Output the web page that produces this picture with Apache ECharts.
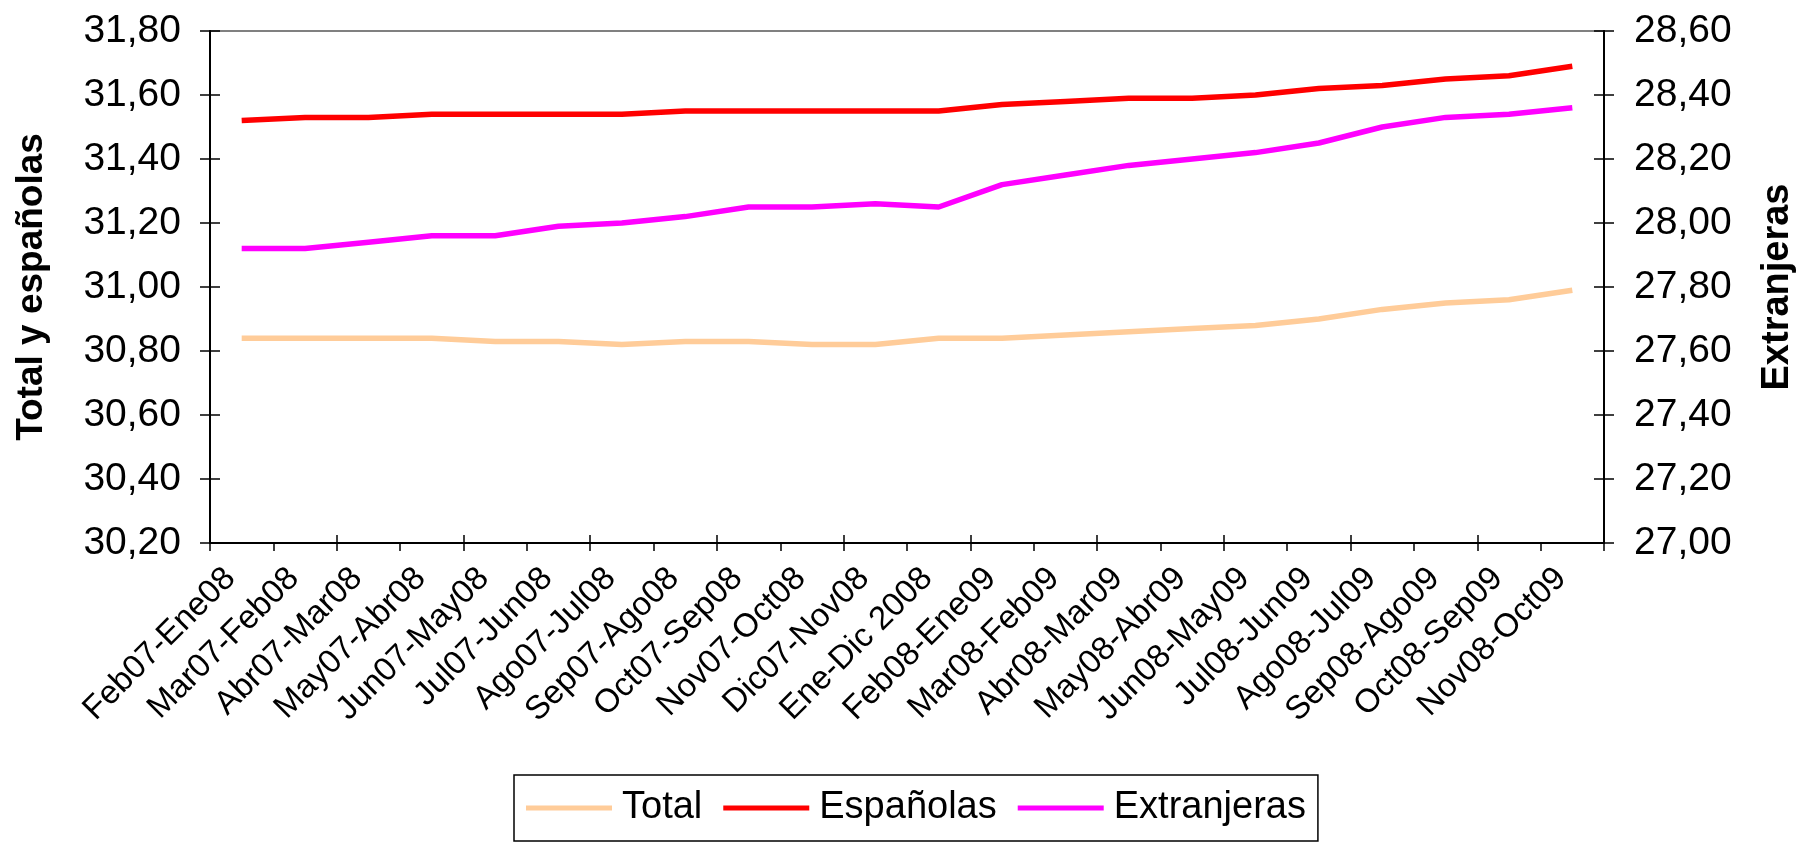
<!DOCTYPE html>
<html>
<head>
<meta charset="utf-8">
<script src="https://cdn.jsdelivr.net/npm/echarts@6/dist/echarts.min.js"></script>
<style>
html,body{margin:0;padding:0;background:#fff;}
#chart{width:1805px;height:845px;}
</style>
</head>
<body>
<div id="chart"></div>
<script>
const categories = ['Feb07-Ene08','Mar07-Feb08','Abr07-Mar08','May07-Abr08','Jun07-May08','Jul07-Jun08','Ago07-Jul08','Sep07-Ago08','Oct07-Sep08','Nov07-Oct08','Dic07-Nov08','Ene-Dic 2008','Feb08-Ene09','Mar08-Feb09','Abr08-Mar09','May08-Abr09','Jun08-May09','Jul08-Jun09','Ago08-Jul09','Sep08-Ago09','Oct08-Sep09','Nov08-Oct09'];
const total = [30.84,30.84,30.84,30.84,30.83,30.83,30.82,30.83,30.83,30.82,30.82,30.84,30.84,30.85,30.86,30.87,30.88,30.90,30.93,30.95,30.96,30.99];
const espanolas = [31.52,31.53,31.53,31.54,31.54,31.54,31.54,31.55,31.55,31.55,31.55,31.55,31.57,31.58,31.59,31.59,31.60,31.62,31.63,31.65,31.66,31.69];
const extranjeras = [27.92,27.92,27.94,27.96,27.96,27.99,28.00,28.02,28.05,28.05,28.06,28.05,28.12,28.15,28.18,28.20,28.22,28.25,28.30,28.33,28.34,28.36];
const seriesNames = ['Total','Españolas','Extranjeras'];
const seriesColors = ['#FFCC99','#FF0000','#FF00FF'];
const leftAxisTitle = 'Total y españolas';
const rightAxisTitle = 'Extranjeras';
const leftRange = {min: 30.2, max: 31.8, interval: 0.2};
const rightRange = {min: 27.0, max: 28.6, interval: 0.2};

const FONT = '"Liberation Sans", Arial, sans-serif';
const fmt = v => v.toFixed(2).replace('.', ',');
const tickStyle = {color: '#000', width: 1.5};

const chart = echarts.init(document.getElementById('chart'), null, {renderer: 'canvas'});
chart.setOption({
  animation: false,
  backgroundColor: '#ffffff',
  textStyle: {fontFamily: FONT, color: '#000'},
  grid: {left: 210, right: 183, top: 31, bottom: 302, show: true, borderColor: '#808080', borderWidth: 2},
  legend: {
    left: 514, top: 775,
    padding: [14, 12, 14, 12],
    borderColor: '#000', borderWidth: 1.5,
    itemWidth: 86, itemHeight: 5, itemGap: 21,
    icon: 'rect',
    textStyle: {fontFamily: FONT, fontSize: 38, color: '#000', padding: [0, 0, 0, 5]},
    data: seriesNames
  },
  xAxis: [
    {
      type: 'category',
      data: categories,
      boundaryGap: true,
      axisLine: {lineStyle: {color: '#000', width: 2}},
      axisTick: {show: true, length: 8, lineStyle: tickStyle},
      axisLabel: {rotate: 45, interval: 0, fontSize: 33, color: '#000', fontFamily: FONT, margin: 19, padding: [0, 16, 0, 0]}
    },
    {
      type: 'category',
      data: categories,
      boundaryGap: true,
      position: 'bottom',
      axisLine: {show: false},
      axisTick: {show: true, inside: true, length: 8, lineStyle: tickStyle},
      axisLabel: {show: false}
    }
  ],
  yAxis: [
    {
      type: 'value', position: 'left', min: leftRange.min, max: leftRange.max, interval: leftRange.interval,
      name: leftAxisTitle, nameLocation: 'middle', nameRotate: 90, nameGap: 160,
      nameTextStyle: {fontSize: 37, fontWeight: 'bold', color: '#000', fontFamily: FONT},
      axisLine: {show: true, lineStyle: {color: '#000', width: 2}},
      axisTick: {show: true, length: 10, lineStyle: tickStyle},
      splitLine: {show: false},
      axisLabel: {formatter: fmt, fontSize: 39, color: '#000', fontFamily: FONT, margin: 29}
    },
    {
      type: 'value', position: 'right', min: rightRange.min, max: rightRange.max, interval: rightRange.interval,
      name: rightAxisTitle, nameLocation: 'middle', nameRotate: 90, nameGap: 155,
      nameTextStyle: {fontSize: 38, fontWeight: 'bold', color: '#000', fontFamily: FONT},
      axisLine: {show: true, lineStyle: {color: '#000', width: 2}},
      axisTick: {show: true, length: 10, lineStyle: tickStyle},
      splitLine: {show: false},
      axisLabel: {formatter: fmt, fontSize: 39, color: '#000', fontFamily: FONT, margin: 30}
    },
    {
      type: 'value', position: 'left', min: leftRange.min, max: leftRange.max, interval: leftRange.interval,
      axisLine: {show: false}, splitLine: {show: false}, axisLabel: {show: false},
      axisTick: {show: true, inside: true, length: 10, lineStyle: tickStyle}
    },
    {
      type: 'value', position: 'right', min: rightRange.min, max: rightRange.max, interval: rightRange.interval,
      axisLine: {show: false}, splitLine: {show: false}, axisLabel: {show: false},
      axisTick: {show: true, inside: true, length: 10, lineStyle: tickStyle}
    }
  ],
  series: [
    {name: seriesNames[0], type: 'line', yAxisIndex: 0, data: total, symbol: 'none', lineStyle: {color: seriesColors[0], width: 5.5}, itemStyle: {color: seriesColors[0]}},
    {name: seriesNames[1], type: 'line', yAxisIndex: 0, data: espanolas, symbol: 'none', lineStyle: {color: seriesColors[1], width: 5.5}, itemStyle: {color: seriesColors[1]}},
    {name: seriesNames[2], type: 'line', yAxisIndex: 1, data: extranjeras, symbol: 'none', lineStyle: {color: seriesColors[2], width: 5.5}, itemStyle: {color: seriesColors[2]}}
  ]
});
</script>
</body>
</html>
